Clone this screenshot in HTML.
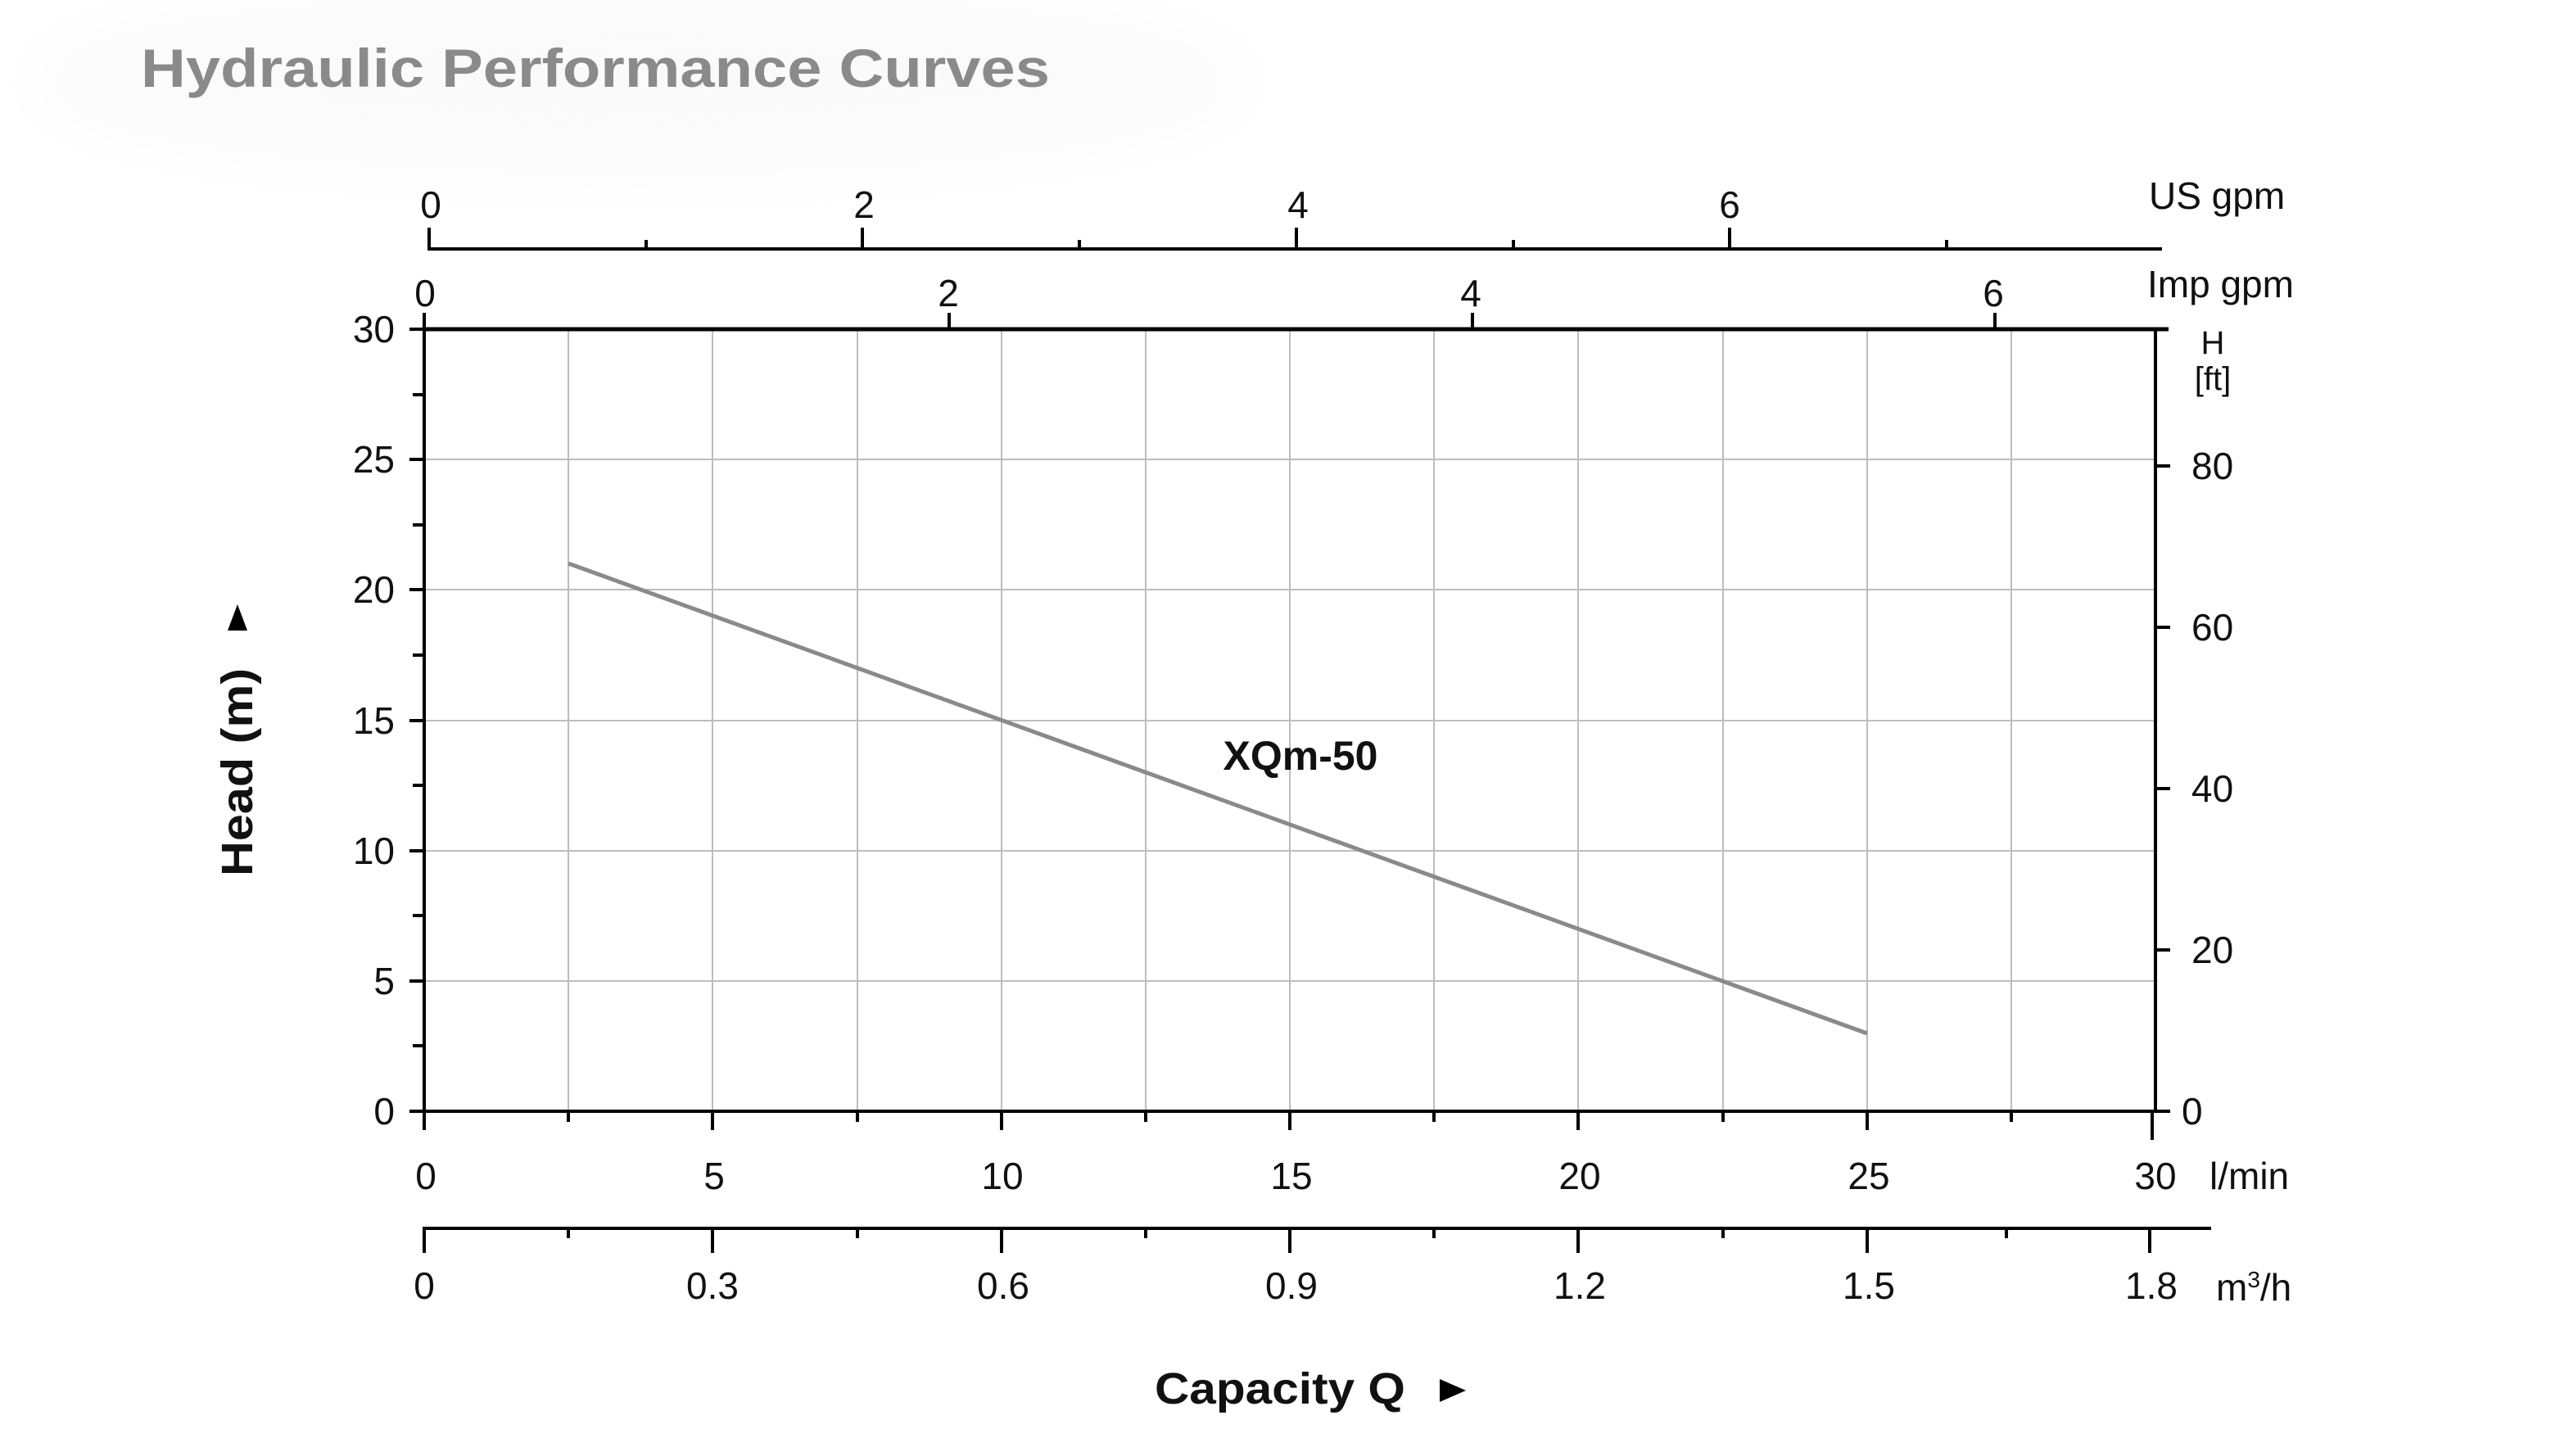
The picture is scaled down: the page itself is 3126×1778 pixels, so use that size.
<!DOCTYPE html>
<html><head><meta charset="utf-8"><style>
html,body{margin:0;padding:0;background:#fff}
svg{display:block}
text{font-family:"Liberation Sans",Arial,sans-serif;fill:#111}
</style></head><body>
<svg width="3126" height="1778" viewBox="0 0 3126 1778" xmlns="http://www.w3.org/2000/svg">
<defs><filter id="b" x="-50%" y="-50%" width="200%" height="200%"><feGaussianBlur stdDeviation="40"/></filter></defs>
<ellipse cx="780" cy="100" rx="740" ry="110" fill="#fafafa" filter="url(#b)"/>
<text x="172" y="106" font-size="66" font-weight="bold" textLength="1110" lengthAdjust="spacingAndGlyphs" style="fill:#8a8a8a">Hydraulic Performance Curves</text>

<!-- grid -->
<g stroke="#bdbdbd" stroke-width="2">
<line x1="694" y1="402" x2="694" y2="1357"/><line x1="870" y1="402" x2="870" y2="1357"/>
<line x1="1047" y1="402" x2="1047" y2="1357"/><line x1="1223" y1="402" x2="1223" y2="1357"/>
<line x1="1399" y1="402" x2="1399" y2="1357"/><line x1="1575" y1="402" x2="1575" y2="1357"/>
<line x1="1751" y1="402" x2="1751" y2="1357"/><line x1="1927" y1="402" x2="1927" y2="1357"/>
<line x1="2104" y1="402" x2="2104" y2="1357"/><line x1="2280" y1="402" x2="2280" y2="1357"/>
<line x1="2456" y1="402" x2="2456" y2="1357"/>
<line x1="518" y1="561" x2="2632" y2="561"/><line x1="518" y1="720" x2="2632" y2="720"/>
<line x1="518" y1="880" x2="2632" y2="880"/><line x1="518" y1="1039" x2="2632" y2="1039"/>
<line x1="518" y1="1198" x2="2632" y2="1198"/>
</g>

<!-- axes -->
<g stroke="#000" stroke-width="4" fill="none">
<line x1="516" y1="402" x2="2648" y2="402" stroke-width="5"/>
<line x1="518" y1="400" x2="518" y2="1359"/>
<line x1="2632" y1="400" x2="2632" y2="1359"/>
<line x1="516" y1="1357" x2="2650" y2="1357"/>
<line x1="500" y1="402" x2="518" y2="402"/><line x1="500" y1="561" x2="518" y2="561"/>
<line x1="500" y1="720" x2="518" y2="720"/><line x1="500" y1="880" x2="518" y2="880"/>
<line x1="500" y1="1039" x2="518" y2="1039"/><line x1="500" y1="1198" x2="518" y2="1198"/>
<line x1="500" y1="1357" x2="518" y2="1357"/>
<line x1="504" y1="482" x2="518" y2="482"/><line x1="504" y1="641" x2="518" y2="641"/>
<line x1="504" y1="800" x2="518" y2="800"/><line x1="504" y1="959" x2="518" y2="959"/>
<line x1="504" y1="1118" x2="518" y2="1118"/><line x1="504" y1="1277" x2="518" y2="1277"/>
<line x1="2632" y1="569" x2="2650" y2="569"/><line x1="2632" y1="766" x2="2650" y2="766"/>
<line x1="2632" y1="963" x2="2650" y2="963"/><line x1="2632" y1="1160" x2="2650" y2="1160"/>
<line x1="518" y1="1357" x2="518" y2="1380"/><line x1="870" y1="1357" x2="870" y2="1380"/>
<line x1="1223" y1="1357" x2="1223" y2="1380"/><line x1="1575" y1="1357" x2="1575" y2="1380"/>
<line x1="1927" y1="1357" x2="1927" y2="1380"/><line x1="2280" y1="1357" x2="2280" y2="1380"/>
<line x1="2628" y1="1357" x2="2628" y2="1392"/>
<line x1="694" y1="1357" x2="694" y2="1370"/><line x1="1047" y1="1357" x2="1047" y2="1370"/>
<line x1="1399" y1="1357" x2="1399" y2="1370"/><line x1="1751" y1="1357" x2="1751" y2="1370"/>
<line x1="2104" y1="1357" x2="2104" y2="1370"/><line x1="2456" y1="1357" x2="2456" y2="1370"/>
<line x1="516" y1="1500" x2="2700" y2="1500"/>
<line x1="518" y1="1500" x2="518" y2="1530"/><line x1="870" y1="1500" x2="870" y2="1530"/>
<line x1="1223" y1="1500" x2="1223" y2="1530"/><line x1="1575" y1="1500" x2="1575" y2="1530"/>
<line x1="1927" y1="1500" x2="1927" y2="1530"/><line x1="2280" y1="1500" x2="2280" y2="1530"/>
<line x1="2625" y1="1500" x2="2625" y2="1530"/>
<line x1="694" y1="1500" x2="694" y2="1512"/><line x1="1047" y1="1500" x2="1047" y2="1512"/>
<line x1="1399" y1="1500" x2="1399" y2="1512"/><line x1="1751" y1="1500" x2="1751" y2="1512"/>
<line x1="2104" y1="1500" x2="2104" y2="1512"/><line x1="2450" y1="1500" x2="2450" y2="1512"/>
<line x1="522" y1="304" x2="2640" y2="304"/>
<line x1="524" y1="278" x2="524" y2="304"/><line x1="1053" y1="278" x2="1053" y2="304"/>
<line x1="1583" y1="278" x2="1583" y2="304"/><line x1="2112" y1="278" x2="2112" y2="304"/>
<line x1="789" y1="293" x2="789" y2="304"/><line x1="1318" y1="293" x2="1318" y2="304"/>
<line x1="1848" y1="293" x2="1848" y2="304"/><line x1="2377" y1="293" x2="2377" y2="304"/>
<line x1="518" y1="382" x2="518" y2="402"/><line x1="1159" y1="382" x2="1159" y2="402"/>
<line x1="1798" y1="382" x2="1798" y2="402"/><line x1="2436" y1="382" x2="2436" y2="402"/>
</g>

<line x1="694" y1="688" x2="2280" y2="1262" stroke="#8a8a8a" stroke-width="5"/>
<text x="1588" y="940" font-size="50" font-weight="bold" text-anchor="middle">XQm-50</text>

<g font-size="46" text-anchor="end">
<text x="482" y="418">30</text><text x="482" y="577">25</text><text x="482" y="736">20</text>
<text x="482" y="896">15</text><text x="482" y="1055">10</text><text x="482" y="1214">5</text>
<text x="482" y="1373">0</text>
</g>
<g font-size="46">
<text x="2676" y="585">80</text><text x="2676" y="782">60</text><text x="2676" y="979">40</text>
<text x="2676" y="1176">20</text><text x="2664" y="1373">0</text>
<text x="2702" y="432" font-size="40" text-anchor="middle">H</text>
<text x="2702" y="476" font-size="40" text-anchor="middle">[ft]</text>
<text x="2624" y="255">US gpm</text>
<text x="2622" y="363">Imp gpm</text>
<text x="2698" y="1452">l/min</text>
<text x="2706" y="1588">m<tspan font-size="28" dy="-16">3</tspan><tspan dy="16">/h</tspan></text>
</g>
<g font-size="46" text-anchor="middle">
<text x="520" y="1452">0</text><text x="872" y="1452">5</text><text x="1224" y="1452">10</text>
<text x="1577" y="1452">15</text><text x="1929" y="1452">20</text><text x="2282" y="1452">25</text>
<text x="2632" y="1452">30</text>
<text x="518" y="1586">0</text><text x="870" y="1586">0.3</text><text x="1225" y="1586">0.6</text>
<text x="1577" y="1586">0.9</text><text x="1929" y="1586">1.2</text><text x="2282" y="1586">1.5</text>
<text x="2627" y="1586">1.8</text>
<text x="526" y="266">0</text><text x="1055" y="266">2</text><text x="1585" y="266">4</text><text x="2112" y="266">6</text>
<text x="519" y="374">0</text><text x="1158" y="374">2</text><text x="1796" y="374">4</text><text x="2434" y="374">6</text>
</g>

<text x="1410" y="1714" font-size="54" font-weight="bold" textLength="306" lengthAdjust="spacingAndGlyphs">Capacity Q</text>
<polygon points="1758,1684 1790,1698 1758,1712" fill="#000"/>
<text transform="translate(308,1070) rotate(-90)" font-size="54" font-weight="bold" textLength="254" lengthAdjust="spacingAndGlyphs">Head (m)</text>
<polygon points="278,770 290,738 302,770" fill="#000"/>
</svg>
</body></html>
